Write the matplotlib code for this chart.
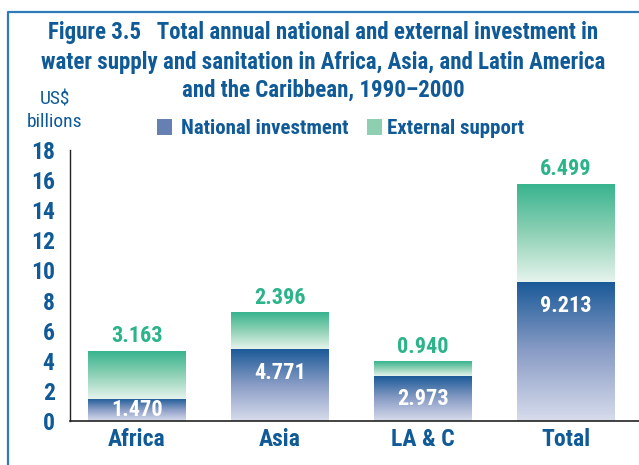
import matplotlib
matplotlib.use("Agg")
import matplotlib.pyplot as plt
import numpy as np
from matplotlib import font_manager
from matplotlib.colors import LinearSegmentedColormap
from matplotlib.lines import Line2D
from matplotlib.patches import Rectangle

categories = ["Africa", "Asia", "LA & C", "Total"]
national = [1.470, 4.771, 2.973, 9.213]
external = [3.163, 2.396, 0.940, 6.499]
yticks = [0, 2, 4, 6, 8, 10, 12, 14, 16, 18]
title = ("Figure 3.5   Total annual national and external investment in\n"
         "water supply and sanitation in Africa, Asia, and Latin America\n"
         "and the Caribbean, 1990\u20132000")

names = {f.name for f in font_manager.fontManager.ttflist}
FONT = "DejaVu Sans"
for cand in ["Liberation Sans Narrow", "DejaVu Sans Condensed", "Roboto Condensed", "Liberation Sans"]:
    if cand in names:
        FONT = cand
        break
plt.rcParams["font.family"] = [FONT, "DejaVu Sans"]

BLUE = "#0f5a97"
GREEN = "#2bb38a"

fig = plt.figure(figsize=(6.39, 4.65), dpi=100)
ax = fig.add_axes([70/639, 1-421/465, 1-70/639, (421-150)/465])

x = np.arange(len(categories))
width = 0.68

cm_nat = LinearSegmentedColormap.from_list("nat", ["#d8dcec", "#8a9dc6", "#1b5a98"])
cm_ext = LinearSegmentedColormap.from_list("ext", ["#e6f4ed", "#8fd1b6", "#38b48e"])
grad = np.linspace(0, 1, 256).reshape(-1, 1)

for xi, n, e in zip(x, national, external):
    ax.imshow(grad, extent=[xi - width/2, xi + width/2, 0, n], origin="lower",
              cmap=cm_nat, aspect="auto", zorder=2)
    ax.imshow(grad, extent=[xi - width/2, xi + width/2, n, n + e], origin="lower",
              cmap=cm_ext, aspect="auto", zorder=2)
    ax.text(xi, n + e + 0.3, f"{e:.3f}", ha="center", va="bottom", color=GREEN,
            fontsize=16, fontweight="bold")
    ly = max(n / 2, n - 1.6)
    ax.text(xi, ly, f"{n:.3f}", ha="center", va="center", color="white",
            fontsize=16, fontweight="bold", zorder=3)

ax.set_xlim(-0.4685, 3.51)
ax.set_ylim(0, 18)
ax.set_yticks(yticks)
ax.set_yticklabels([str(t) for t in yticks], fontsize=17, fontweight="bold", color=BLUE)
ax.set_xticks(x)
ax.set_xticklabels(categories, fontsize=17, fontweight="bold", color=BLUE)
ax.tick_params(axis="both", length=0)
ax.tick_params(axis="y", pad=11)
ax.tick_params(axis="x", pad=5)
for s in ["top", "right"]:
    ax.spines[s].set_visible(False)
ax.spines["left"].set_color("#222222")
ax.spines["bottom"].set_color("#222222")
ax.spines["left"].set_linewidth(1.0)
ax.spines["bottom"].set_linewidth(1.2)

fig.text(323/639, 1-33/465, title.split("\n")[0], ha="center", va="center", fontsize=16.5,
         fontweight="bold", color=BLUE)
fig.text(323/639, 1-62/465, title.split("\n")[1], ha="center", va="center", fontsize=16.5,
         fontweight="bold", color=BLUE)
fig.text(323/639, 1-90/465, title.split("\n")[2], ha="center", va="center", fontsize=16.5,
         fontweight="bold", color=BLUE)
fig.text(55/639, 1-99/465, "US$", ha="center", va="center", fontsize=14, color=BLUE)
fig.text(55/639, 1-122/465, "billions", ha="center", va="center", fontsize=14, color=BLUE)

# legend
fig.patches.append(Rectangle((157/639, 1-135/465), 15/639, 16/465, transform=fig.transFigure,
                             facecolor="#6680b2", edgecolor="none", figure=fig))
fig.text(181/639, 1-128/465, "National investment", ha="left", va="center",
         fontsize=15, fontweight="bold", color=BLUE)
fig.patches.append(Rectangle((367/639, 1-135/465), 15/639, 16/465, transform=fig.transFigure,
                             facecolor="#8ecfb1", edgecolor="none", figure=fig))
fig.text(387/639, 1-128/465, "External support", ha="left", va="center",
         fontsize=15, fontweight="bold", color=BLUE)

# frame
fig.add_artist(Line2D([8/639, 8/639, 1], [0, 1-12/465, 1-12/465], transform=fig.transFigure,
                      color="#2f7ab8", linewidth=1.6))

fig.savefig("out.png", dpi=100)
